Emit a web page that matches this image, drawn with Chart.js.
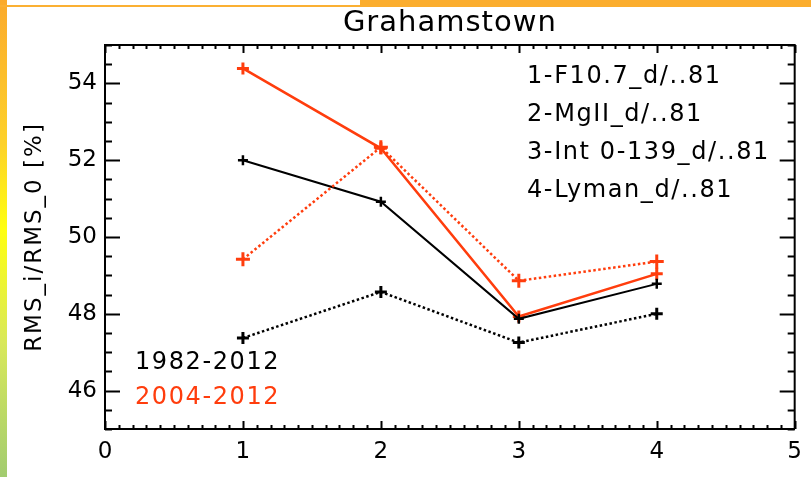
<!DOCTYPE html>
<html lang="en">
<head>
  <meta charset="UTF-8" />
  <title>Grahamstown</title>
  <script src="https://cdn.jsdelivr.net/npm/chart.js"></script>
  <style>
    body { margin: 0; background: #fff; }
    #wrap { position: relative; width: 811px; height: 477px; background: #fff; overflow: hidden; }
    #edgeLeft { position: absolute; left: 0; top: 0; width: 7px; height: 477px;
      background: linear-gradient(to bottom, #fbaa2c 0%, #fdd12a 30%, #ffff10 48%, #d8e85a 72%, #a2cc70 100%); }
    #edgeTopA { position: absolute; left: 0; top: 5px; width: 360px; height: 2px; background: #fbb033; }
    #edgeTopB { position: absolute; left: 360px; top: 0; width: 451px; height: 7px; background: #fbad2e; }
    canvas { position: absolute; left: 0; top: 0; }
  </style>
</head>
<body>
  <div id="wrap">
    <div id="edgeLeft"></div>
    <div id="edgeTopA"></div>
    <div id="edgeTopB"></div>
    <canvas id="graphe" width="811" height="477"></canvas>
  </div>
  <script>
    // donnees
    const xValues = [1, 2, 3, 4];
    const black1982Solid = [52.0, 50.92, 47.87, 48.78];
    const black1982Dotted = [47.37, 48.57, 47.25, 48.0];
    const red2004Solid = [54.39, 52.31, 47.93, 49.04];
    const red2004Dotted = [49.42, 52.34, 48.86, 49.36];
    const xTickLabels = [0, 1, 2, 3, 4, 5];
    const yTickLabels = [46, 48, 50, 52, 54];
    const proxyLines = ['1-F10.7_d/..81', '2-MgII_d/..81', '3-Int 0-139_d/..81', '4-Lyman_d/..81'];
    const periods = ['1982-2012', '2004-2012'];
    const titleText = 'Grahamstown';
    const yTitle = 'RMS_i/RMS_0 [%]';

    const RED = '#ff3d0d';
    const FONT = '"DejaVu Sans", sans-serif';

    function pts(vals) {
      return xValues.map((x, i) => ({ x: x, y: vals[i] }));
    }

    // ticks vers l'interieur + cadre + textes
    const idlPlugin = {
      id: 'idl',
      afterDraw(chart) {
        const ctx = chart.ctx;
        const a = chart.chartArea;
        const xs = chart.scales.x, ys = chart.scales.y;
        ctx.save();
        ctx.strokeStyle = '#000';
        ctx.lineWidth = 2;
        ctx.beginPath();
        // cadre haut et droite
        ctx.moveTo(a.left, a.top); ctx.lineTo(a.right, a.top); ctx.lineTo(a.right, a.bottom);
        // ticks x (0.1)
        for (let k = 0; k <= 50; k++) {
          const px = Math.round(xs.getPixelForValue(k / 10)) + 0.5;
          const len = (k % 10 === 0) ? 8 : 4;
          ctx.moveTo(px, a.bottom); ctx.lineTo(px, a.bottom - len);
          ctx.moveTo(px, a.top); ctx.lineTo(px, a.top + len);
        }
        // ticks y (0.5)
        for (let k = 90; k <= 110; k++) {
          const py = Math.round(ys.getPixelForValue(k / 2)) + 0.5;
          const len = (k % 4 === 0) ? 15 : 7;
          ctx.moveTo(a.left, py); ctx.lineTo(a.left + len, py);
          ctx.moveTo(a.right, py); ctx.lineTo(a.right - len, py);
        }
        ctx.stroke();

        ctx.fillStyle = '#000';
        ctx.textBaseline = 'middle';
        // titre
        ctx.font = '29px ' + FONT;
        ctx.letterSpacing = '1px';
        ctx.textAlign = 'center';
        ctx.fillText(titleText, (a.left + a.right) / 2, 23);

        ctx.font = '24px ' + FONT;
        ctx.letterSpacing = '1.6px';
        ctx.textAlign = 'left';
        proxyLines.forEach((t, i) => ctx.fillText(t, 527, 77 + i * 37.8));
        ctx.fillText(periods[0], 135, 363);
        ctx.fillStyle = RED;
        ctx.fillText(periods[1], 135, 398);

        // titre axe y
        ctx.fillStyle = '#000';
        ctx.font = '23px ' + FONT;
        ctx.letterSpacing = '2px';
        ctx.translate(35, (a.top + a.bottom) / 2);
        ctx.rotate(-Math.PI / 2);
        ctx.textAlign = 'center';
        ctx.fillText(yTitle, 0, 0);
        ctx.restore();
      }
    };

    const ctx = document.getElementById('graphe').getContext('2d');
    const myChart = new Chart(ctx, {
      type: 'line',
      data: {
        datasets: [
          { data: pts(black1982Dotted), borderColor: '#000', borderWidth: 2.5, borderDash: [2.5, 2.5],
            pointStyle: 'cross', pointRadius: 6, pointBorderWidth: 3, pointBorderColor: '#000' },
          { data: pts(red2004Dotted), borderColor: RED, borderWidth: 2.5, borderDash: [2.5, 2.5],
            pointStyle: 'cross', pointRadius: 7, pointBorderWidth: 3, pointBorderColor: RED },
          { data: pts(black1982Solid), borderColor: '#000', borderWidth: 2,
            pointStyle: 'cross', pointRadius: 5, pointBorderWidth: 2.5, pointBorderColor: '#000' },
          { data: pts(red2004Solid), borderColor: RED, borderWidth: 2.5,
            pointStyle: 'cross', pointRadius: 6, pointBorderWidth: 3, pointBorderColor: RED }
        ]
      },
      options: {
        responsive: false,
        animation: false,
        layout: { padding: { top: 45, right: 6, left: 0, bottom: 0 } },
        plugins: { legend: { display: false }, tooltip: { enabled: false }, title: { display: false } },
        scales: {
          x: {
            type: 'linear', min: 0, max: 5,
            grid: { display: false, drawTicks: false },
            border: { display: true, color: '#000', width: 2 },
            ticks: { color: '#000', font: { family: FONT, size: 23 }, padding: 9 },
            afterBuildTicks: s => { s.ticks = xTickLabels.map(v => ({ value: v })); },
            afterFit: s => { s.height = 48; }
          },
          y: {
            type: 'linear', min: 45, max: 55,
            grid: { display: false, drawTicks: false },
            border: { display: true, color: '#000', width: 2 },
            ticks: { color: '#000', font: { family: FONT, size: 23 }, padding: 8 },
            afterBuildTicks: s => { s.ticks = yTickLabels.map(v => ({ value: v })); },
            afterFit: s => { s.width = 105; }
          }
        }
      },
      plugins: [idlPlugin]
    });
  </script>
</body>
</html>
